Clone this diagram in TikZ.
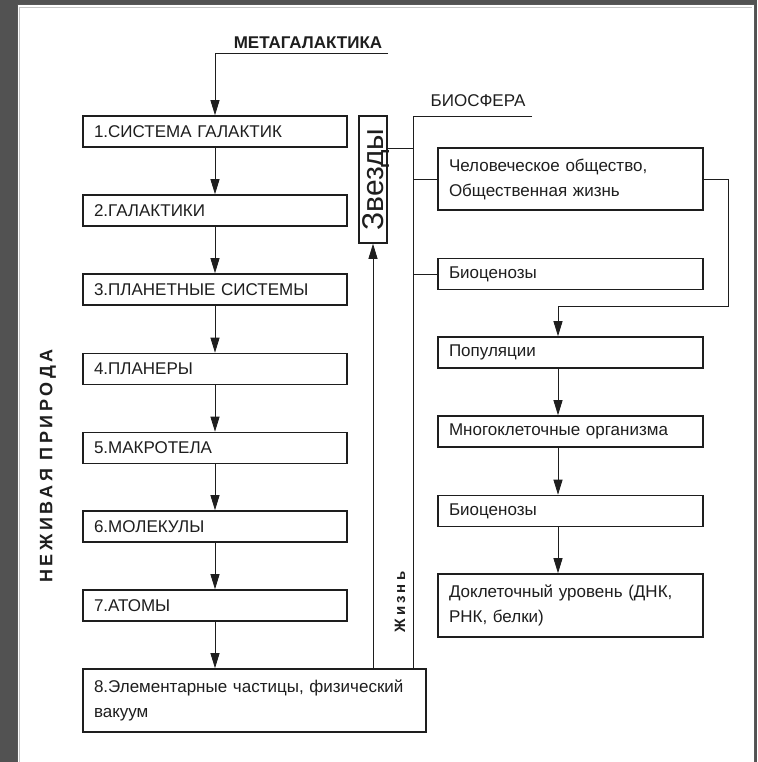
\documentclass[tikz,border=0pt]{standalone}
\usepackage{fontspec}
\setmainfont{Liberation Sans}
\usetikzlibrary{arrows.meta}
\definecolor{slide}{RGB}{82,82,82}
\definecolor{ink}{RGB}{30,30,30}

\tikzset{
  stage/.style={draw=ink, line width=1.6pt, inner xsep=11pt, inner ysep=0pt, minimum height=31pt, align=left, text=ink, font=\fontsize{17}{25}\selectfont},
  nature/.style={stage, text width=242pt},
  life/.style={stage, text width=243pt},
  link/.style={draw=ink, line width=0.9pt},
  flow/.style={link, -{Triangle[length=15pt,width=9pt]}},
}

\begin{document}
\begin{tikzpicture}[x=1pt, y=-1pt]
		\useasboundingbox (0,0) rectangle (757,762);
		% slide and sheet
		\fill [slide] (0,0) rectangle (757,762);
		\fill [white, draw=black!65, line width=1pt] (17,5) rectangle (754,780);
		\draw [gray!45, line width=0.8pt] (19.5,7.5) -- (751.5,7.5);
		\draw [gray!45, line width=0.8pt] (19.5,7.5) -- (19.5,780);

		% non-living nature
		\node [nature] (sys) at (215,131.5) {1.СИСТЕМА ГАЛАКТИК};
		\node [nature] (gal) at (215,210.5) {2.ГАЛАКТИКИ};
		\node [nature] (plsys) at (215,289.5) {3.ПЛАНЕТНЫЕ СИСТЕМЫ};
		\node [nature] (plan) at (215,369) {4.ПЛАНЕРЫ};
		\node [nature] (macro) at (215,448) {5.МАКРОТЕЛА};
		\node [nature] (mol) at (215,526.5) {6.МОЛЕКУЛЫ};
		\node [nature] (atom) at (215,605.5) {7.АТОМЫ};
		\node [stage, text width=321pt, minimum height=63pt] (part) at (254.5,700.5) {8.Элементарные частицы, физический\\вакуум};

		% biosphere
		\node [life, minimum height=62pt] (soc) at (570.5,179) {Человеческое общество,\\Общественная жизнь};
		\node [life] (bcz) at (570.5,274) {Биоценозы};
		\node [life] (pop) at (570.5,352.5) {Популяции};
		\node [life] (multi) at (570.5,431.5) {Многоклеточные организма};
		\node [life] (bcz2) at (570.5,511) {Биоценозы};
		\node [life, minimum height=63pt] (precell) at (570.5,605.5) {Доклеточный уровень (ДНК,\\РНК, белки)};

		\node [draw=ink, line width=1.6pt, rotate=90, minimum width=127pt, minimum height=28pt, inner sep=0pt, text height=21pt, text depth=0pt, text=ink, font=\fontsize{30}{30}\selectfont] (stars) at (373,179.5) {Звезды};

		% labels
		\node [text=ink, font=\bfseries\fontsize{17}{17}\selectfont] (meta) at (308,43) {МЕТАГАЛАКТИКА};
		\node [text=ink, font=\fontsize{17}{17}\selectfont] (bio) at (478,101) {БИОСФЕРА};
		\node [rotate=90, text=ink, font={\bfseries\fontsize{18}{18}\selectfont\addfontfeatures{LetterSpace=20}}] (inert) at (48,466) {НЕЖИВАЯ ПРИРОДА};
		\node [rotate=90, text=ink, font={\bfseries\fontsize{15}{15}\selectfont\addfontfeatures{LetterSpace=20}}] (alive) at (400,602) {Жизнь};

		% connectors
		\coordinate (metaend) at (388,53);
		\draw [flow] (metaend) -- (metaend -| sys) -- (sys);
		\draw [flow] (sys) -- (gal);
		\draw [flow] (gal) -- (plsys);
		\draw [flow] (plsys) -- (plan);
		\draw [flow] (plan) -- (macro);
		\draw [flow] (macro) -- (mol);
		\draw [flow] (mol) -- (atom);
		\draw [flow] (atom) -- (atom |- part.north);
		\draw [flow] (part.north -| stars) -- (stars);

		\coordinate (bioend) at (532,116);
		\coordinate (spine) at (413,116);
		\coordinate (starlink) at (413,148);
		\draw [link] (bioend) -- (spine) -- (spine |- part.north);
		\draw [link] (starlink) -- (starlink -| stars.south);
		\draw [link] (spine |- soc.west) -- (soc.west);
		\draw [link] (spine |- bcz.west) -- (bcz.west);

		\coordinate (bend) at (728,306);
		\coordinate (rx) at (558,306);
		\draw [flow] (soc.east) -| (bend) -- (rx) -- (pop.north -| rx);
		\draw [flow] (pop.south -| rx) -- (multi.north -| rx);
		\draw [flow] (multi.south -| rx) -- (bcz2.north -| rx);
		\draw [flow] (bcz2.south -| rx) -- (precell.north -| rx);
	\end{tikzpicture}
\end{document}
